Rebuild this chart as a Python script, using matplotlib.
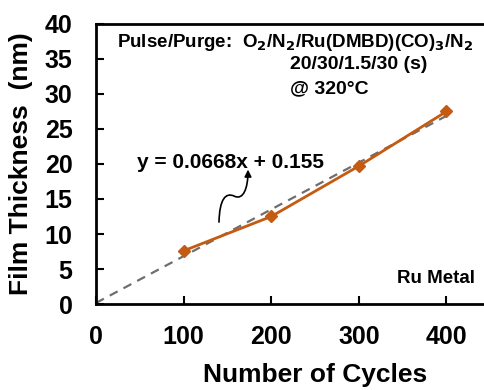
import matplotlib
matplotlib.use('Agg')
import matplotlib.pyplot as plt
from matplotlib.patches import FancyArrowPatch
from matplotlib.path import Path
import numpy as np

plt.rcParams['font.family'] = ['Liberation Sans', 'DejaVu Sans']
plt.rcParams['font.weight'] = 'bold'
plt.rcParams['mathtext.default'] = 'bf'

# data
cycles = [100, 200, 300, 400]
thickness = [7.6, 12.5, 19.7, 27.5]
slope, intercept = 0.0668, 0.155
fit_x = [0, 400]
x_ticks = [0, 100, 200, 300, 400]
y_ticks = list(range(0, 41, 5))

ORANGE = '#C55A11'
GRAY = '#6E6E6E'

fig = plt.figure(figsize=(4.85, 3.9), dpi=100)
# axes run on past the right edge of the picture (x up to 500), as in the source
ax = fig.add_axes([0.198, 0.2205, 0.903, 0.718])

fit_y = [slope * x + intercept for x in fit_x]
ax.plot(fit_x, fit_y, linestyle=(0, (4, 3)), color=GRAY, linewidth=1.6, zorder=2)
ax.plot(cycles, thickness, color=ORANGE, linewidth=2, marker='D', markersize=6,
        zorder=3)

ax.set_xlim(0, 500)
ax.set_ylim(0, 40)
ax.set_xticks(x_ticks)
ax.set_yticks(y_ticks)
ax.set_xticklabels([str(v) for v in x_ticks], fontweight='bold', fontsize=18)
ax.set_yticklabels([str(v) for v in y_ticks], fontweight='bold', fontsize=18)
ax.tick_params(axis='x', direction='in', length=6, width=1.5, pad=15)
ax.tick_params(axis='y', direction='in', length=6, width=1.5, pad=17)
for s in ax.spines.values():
    s.set_linewidth(2)
ax.spines['right'].set_visible(False)

ax.set_xlabel('Number of Cycles', fontsize=19, fontweight='bold', labelpad=10)
ax.set_ylabel('Film Thickness  (nm)', fontsize=19, fontweight='bold', labelpad=8)

ax.text(24, 38.9, 'Pulse/Purge:  O$_2$/N$_2$/Ru(DMBD)(CO)$_3$/N$_2$',
        fontsize=13.5, fontweight='bold', va='top', ha='left')
ax.text(221, 35.4, '20/30/1.5/30 (s)', fontsize=14,
        fontweight='bold', va='top', ha='left')
ax.text(221, 32.0, '@ 320°C', fontsize=14,
        fontweight='bold', va='top', ha='left')

ax.text(47, 20.2, 'y = 0.0668x + 0.155', fontsize=15, fontweight='bold',
        va='center', ha='left')

# wavy arrow pointing at the fit equation
arrow_path = Path([(140.4, 11.7), (141, 15.0), (148, 16.0), (158, 15.4),
                   (168, 14.8), (173.5, 16.5), (173.5, 19.2)],
                  [Path.MOVETO, Path.CURVE4, Path.CURVE4, Path.CURVE4,
                   Path.CURVE4, Path.CURVE4, Path.CURVE4])
ax.add_patch(FancyArrowPatch(path=arrow_path, arrowstyle='-|>', mutation_scale=10,
                             color='black', lw=1.2))

ax.text(433, 3.0, 'Ru Metal', fontsize=13.5, fontweight='bold',
        va='baseline', ha='right')

fig.savefig('out.png', dpi=100)
